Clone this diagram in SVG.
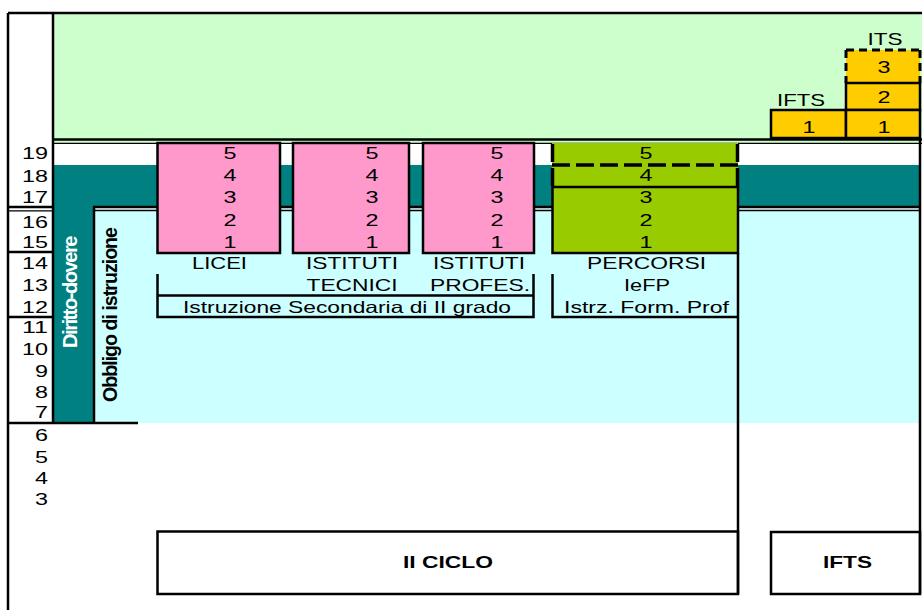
<svg xmlns="http://www.w3.org/2000/svg" width="922" height="610" viewBox="0 0 922 610">
<style>
text{font-family:"Liberation Sans",Arial,sans-serif;fill:#000}
.n{font-size:17px;text-anchor:middle}
.y{font-size:17px;text-anchor:end}
.l{font-size:16.5px;text-anchor:middle}
.b{font-size:16.5px;font-weight:bold;text-anchor:middle}
.ln{stroke:#000;stroke-width:2.5;fill:none}
.th{stroke:#000;stroke-width:1.3;fill:none}
.dash{stroke:#000;stroke-width:3.5;stroke-dasharray:18 6;fill:none}
.dash2{stroke:#000;stroke-width:3;stroke-dasharray:8 5;fill:none}
.pink{fill:#FF99CC;stroke:#000;stroke-width:2.5}
.gold{fill:#FFCC00;stroke:#000;stroke-width:2.5}
</style>
<rect width="922" height="610" fill="#fff"/>
<g id="background">
<rect x="53" y="13" width="869" height="130" fill="#CCFFCC"/>
<rect x="53" y="165" width="867" height="42" fill="#008080"/>
<rect x="53" y="165" width="40" height="258" fill="#008080"/>
<rect x="93" y="209" width="827" height="214" fill="#CCFFFF"/>
</g>
<g id="frame">
<path class="ln" d="M8 13H922M8 13V610M53 13V423M53 139.5H922M8 207H53M8 252H53M8 317H53M8 423H138M93 207H920M94 207V423M920 139V594M738 253V594"/>
<path class="th" d="M53 143.3H922M8 210.8H53M93 210.5H920"/>
</g>
<g id="years">
<text class="y" x="48" y="159" textLength="26" lengthAdjust="spacingAndGlyphs">19</text>
<text class="y" x="48" y="182" textLength="26" lengthAdjust="spacingAndGlyphs">18</text>
<text class="y" x="48" y="203" textLength="26" lengthAdjust="spacingAndGlyphs">17</text>
<text class="y" x="48" y="228" textLength="26" lengthAdjust="spacingAndGlyphs">16</text>
<text class="y" x="48" y="248" textLength="26" lengthAdjust="spacingAndGlyphs">15</text>
<text class="y" x="48" y="269" textLength="26" lengthAdjust="spacingAndGlyphs">14</text>
<text class="y" x="48" y="291" textLength="26" lengthAdjust="spacingAndGlyphs">13</text>
<text class="y" x="48" y="313" textLength="26" lengthAdjust="spacingAndGlyphs">12</text>
<text class="y" x="48" y="333" textLength="26" lengthAdjust="spacingAndGlyphs">11</text>
<text class="y" x="48" y="355" textLength="26" lengthAdjust="spacingAndGlyphs">10</text>
<text class="y" x="48" y="377" textLength="13" lengthAdjust="spacingAndGlyphs">9</text>
<text class="y" x="48" y="398" textLength="13" lengthAdjust="spacingAndGlyphs">8</text>
<text class="y" x="48" y="418" textLength="13" lengthAdjust="spacingAndGlyphs">7</text>
<text class="y" x="48" y="441" textLength="13" lengthAdjust="spacingAndGlyphs">6</text>
<text class="y" x="48" y="463" textLength="13" lengthAdjust="spacingAndGlyphs">5</text>
<text class="y" x="48" y="484" textLength="13" lengthAdjust="spacingAndGlyphs">4</text>
<text class="y" x="48" y="505" textLength="13" lengthAdjust="spacingAndGlyphs">3</text>
</g>
<g id="diritto-dovere">
<text transform="translate(77,292.5) rotate(-90)" style="font-size:20px;font-weight:bold;fill:#fff;text-anchor:middle;letter-spacing:-1.5px" textLength="111" lengthAdjust="spacingAndGlyphs">Diritto-dovere</text>
</g>
<g id="obbligo">
<text transform="translate(117,315) rotate(-90)" style="font-size:19.5px;font-weight:bold;text-anchor:middle;letter-spacing:-1px" textLength="174" lengthAdjust="spacingAndGlyphs">Obbligo di istruzione</text>
</g>
<g id="licei">
<rect class="pink" x="157.5" y="143" width="122.5" height="110"/>
<text class="n" x="230" y="159" textLength="13" lengthAdjust="spacingAndGlyphs">5</text>
<text class="n" x="230" y="181" textLength="13" lengthAdjust="spacingAndGlyphs">4</text>
<text class="n" x="230" y="203" textLength="13" lengthAdjust="spacingAndGlyphs">3</text>
<text class="n" x="230" y="225.5" textLength="13" lengthAdjust="spacingAndGlyphs">2</text>
<text class="n" x="230" y="248" textLength="13" lengthAdjust="spacingAndGlyphs">1</text>
<text class="l" x="219.5" y="269" textLength="55" lengthAdjust="spacingAndGlyphs">LICEI</text>
</g>
<g id="tecnici">
<rect class="pink" x="293" y="143" width="116" height="110"/>
<text class="n" x="372" y="159" textLength="13" lengthAdjust="spacingAndGlyphs">5</text>
<text class="n" x="372" y="181" textLength="13" lengthAdjust="spacingAndGlyphs">4</text>
<text class="n" x="372" y="203" textLength="13" lengthAdjust="spacingAndGlyphs">3</text>
<text class="n" x="372" y="225.5" textLength="13" lengthAdjust="spacingAndGlyphs">2</text>
<text class="n" x="372" y="248" textLength="13" lengthAdjust="spacingAndGlyphs">1</text>
<text class="l" x="352" y="269" textLength="92" lengthAdjust="spacingAndGlyphs">ISTITUTI</text>
<text class="l" x="352" y="291" textLength="91" lengthAdjust="spacingAndGlyphs">TECNICI</text>
</g>
<g id="professionali">
<rect class="pink" x="423" y="143" width="111" height="110"/>
<text class="n" x="497" y="159" textLength="13" lengthAdjust="spacingAndGlyphs">5</text>
<text class="n" x="497" y="181" textLength="13" lengthAdjust="spacingAndGlyphs">4</text>
<text class="n" x="497" y="203" textLength="13" lengthAdjust="spacingAndGlyphs">3</text>
<text class="n" x="497" y="225.5" textLength="13" lengthAdjust="spacingAndGlyphs">2</text>
<text class="n" x="497" y="248" textLength="13" lengthAdjust="spacingAndGlyphs">1</text>
<text class="l" x="479" y="269" textLength="92" lengthAdjust="spacingAndGlyphs">ISTITUTI</text>
<text class="l" x="480" y="291" textLength="100" lengthAdjust="spacingAndGlyphs">PROFES.</text>
</g>
<g id="iefp">
<rect x="552" y="143" width="186" height="110" fill="#99CC00"/>
<rect x="552.5" y="187" width="185.5" height="66" fill="none" stroke="#000" stroke-width="2.5"/>
<path class="dash" d="M552.5 144V187M737.5 144V187M552 165H738"/>
<text class="n" x="646" y="159" textLength="13" lengthAdjust="spacingAndGlyphs">5</text>
<text class="n" x="646" y="181" textLength="13" lengthAdjust="spacingAndGlyphs">4</text>
<text class="n" x="646" y="203" textLength="13" lengthAdjust="spacingAndGlyphs">3</text>
<text class="n" x="646" y="225.5" textLength="13" lengthAdjust="spacingAndGlyphs">2</text>
<text class="n" x="646" y="248" textLength="13" lengthAdjust="spacingAndGlyphs">1</text>
<text class="l" x="646.5" y="269" textLength="119" lengthAdjust="spacingAndGlyphs">PERCORSI</text>
<text class="l" x="647" y="291" textLength="46" lengthAdjust="spacingAndGlyphs">IeFP</text>
</g>
<g id="istruzione-secondaria">
<path class="ln" d="M157.5 274V317H533.5V274M157.5 295.5H533.5"/>
<text class="l" x="347" y="313" textLength="328" lengthAdjust="spacingAndGlyphs">Istruzione Secondaria di II grado</text>
</g>
<g id="istrz-form-prof">
<path class="ln" d="M552.5 274V317H738"/>
<text class="l" x="646.5" y="313" textLength="165" lengthAdjust="spacingAndGlyphs">Istrz. Form. Prof</text>
</g>
<g id="ifts-top">
<rect class="gold" x="771" y="110" width="75" height="28"/>
<text class="n" x="809" y="133" textLength="13" lengthAdjust="spacingAndGlyphs">1</text>
<text class="l" x="801" y="106" textLength="48" lengthAdjust="spacingAndGlyphs">IFTS</text>
</g>
<g id="its-top">
<rect x="846" y="50" width="74" height="33" fill="#FFCC00"/>
<path class="dash2" d="M846 50H920M846 50V83M920 50V83"/>
<rect class="gold" x="846" y="83" width="74" height="27"/>
<rect class="gold" x="846" y="110" width="74" height="28"/>
<text class="n" x="884" y="73" textLength="13" lengthAdjust="spacingAndGlyphs">3</text>
<text class="n" x="884" y="103" textLength="13" lengthAdjust="spacingAndGlyphs">2</text>
<text class="n" x="884" y="133" textLength="13" lengthAdjust="spacingAndGlyphs">1</text>
<text class="l" x="885" y="45" textLength="35" lengthAdjust="spacingAndGlyphs">ITS</text>
</g>
<g id="ii-ciclo">
<rect x="157.5" y="531.5" width="580.5" height="62.5" fill="none" stroke="#000" stroke-width="2.5"/>
<text class="b" x="448" y="568" textLength="90" lengthAdjust="spacingAndGlyphs">II CICLO</text>
</g>
<g id="ifts-bottom">
<rect x="771" y="532" width="149" height="62" fill="none" stroke="#000" stroke-width="2.5"/>
<text class="b" x="847.5" y="568" textLength="49" lengthAdjust="spacingAndGlyphs">IFTS</text>
</g>
</svg>
